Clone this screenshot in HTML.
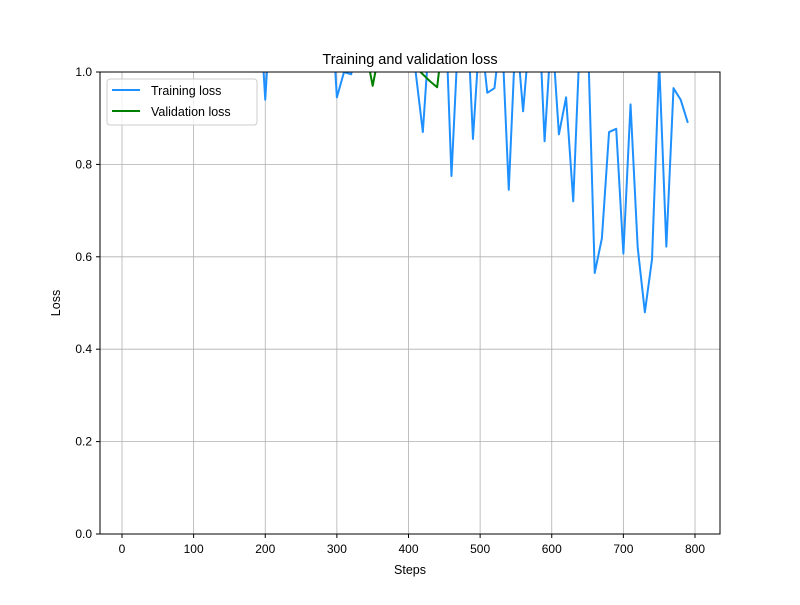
<!DOCTYPE html>
<html><head><meta charset="utf-8"><style>
body{margin:0;background:#fff;font-family:"Liberation Sans","DejaVu Sans",sans-serif}
</style></head><body>
<svg id="chart" width="800" height="600" xmlns="http://www.w3.org/2000/svg">
<defs><clipPath id="clip"><rect x="100" y="72" width="620" height="462"/></clipPath></defs>
<rect x="0" y="0" width="800" height="600" fill="#fff"/>
<g id="grid"></g>
<g id="series" clip-path="url(#clip)"></g>
<rect x="100" y="72" width="620" height="462" fill="none" stroke="#000" stroke-width="1"/>
<g id="ticks" font-size="12" fill="#000"></g>
<text x="410" y="64" text-anchor="middle" font-size="14.5">Training and validation loss</text>
<text x="410" y="574" text-anchor="middle" font-size="12.5">Steps</text>
<text x="60" y="303" text-anchor="middle" font-size="12.5" transform="rotate(-90 60 303)">Loss</text>
<g>
<rect x="107" y="79" width="150" height="46" rx="3" fill="#fff" fill-opacity="0.8" stroke="#ccc"/>
<g><line x1="112" y1="90" x2="140" y2="90" stroke="#1e90ff" stroke-width="2"/><text x="151" y="95" font-size="12.5">Training loss</text></g>
<g><line x1="112" y1="111" x2="140" y2="111" stroke="#008000" stroke-width="2"/><text x="151" y="116" font-size="12.5">Validation loss</text></g>
</g>
</svg>
<script>
const trainSteps = [180,190,200,210,290,300,310,320,330,400,410,420,430,450,460,470,480,490,500,510,520,530,540,550,560,570,580,590,600,610,620,630,640,650,660,670,680,690,700,710,720,730,740,750,760,770,780,790];
const trainLoss = [1.3,1.2,0.94,1.2,1.2,0.945,1.0,0.995,1.1,1.2,1.0,0.87,1.1,1.2,0.775,1.1,1.2,0.855,1.1,0.955,0.965,1.1,0.745,1.1,0.915,1.1,1.2,0.85,1.1,0.865,0.945,0.72,1.1,1.1,0.565,0.64,0.87,0.877,0.607,0.93,0.62,0.48,0.595,1.02,0.622,0.965,0.94,0.89];
const valSteps = [340,350,360,400,410,420,430,440,450];
const valLoss = [1.05,0.97,1.05,1.1,1.01,0.995,0.98,0.967,1.1];
const xTicks = [0,100,200,300,400,500,600,700,800];
const yTicks = [0.0,0.2,0.4,0.6,0.8,1.0];
const X = v => 122 + v * (573/800);
const Y = v => 534 - v * 462;
const NS = "http://www.w3.org/2000/svg";
const grid = document.getElementById('grid'), ticks = document.getElementById('ticks'), series = document.getElementById('series');
function mk(tag, attrs, parent){const e=document.createElementNS(NS,tag);for(const k in attrs)e.setAttribute(k,attrs[k]);parent.appendChild(e);return e;}
xTicks.forEach(t=>{
  const g = mk('line',{x1:X(t),x2:X(t),y1:72,y2:534,stroke:'#b0b0b0','stroke-width':0.8},grid);
  
  
  mk('line',{x1:X(t),x2:X(t),y1:534,y2:538,stroke:'#000'},ticks);
  const tx = mk('text',{x:X(t),y:553,'text-anchor':'middle'},ticks);
  tx.textContent = t;
  
  
});
yTicks.forEach(t=>{
  const g = mk('line',{x1:100,x2:720,y1:Y(t),y2:Y(t),stroke:'#b0b0b0','stroke-width':0.8},grid);
  
  
  mk('line',{x1:96,x2:100,y1:Y(t),y2:Y(t),stroke:'#000'},ticks);
  const tx = mk('text',{x:92,y:Y(t)+4,'text-anchor':'end'},ticks);
  tx.textContent = t.toFixed(1);
  
  
});
const tp = mk('polyline',{points:trainSteps.map((s,i)=>X(s)+','+Y(trainLoss[i])).join(' '),fill:'none',stroke:'#1e90ff','stroke-width':2,'stroke-linejoin':'round'},series);


const vp = mk('polyline',{points:valSteps.map((s,i)=>X(s)+','+Y(valLoss[i])).join(' '),fill:'none',stroke:'#008000','stroke-width':2,'stroke-linejoin':'round'},series);


</script>
</body></html>
